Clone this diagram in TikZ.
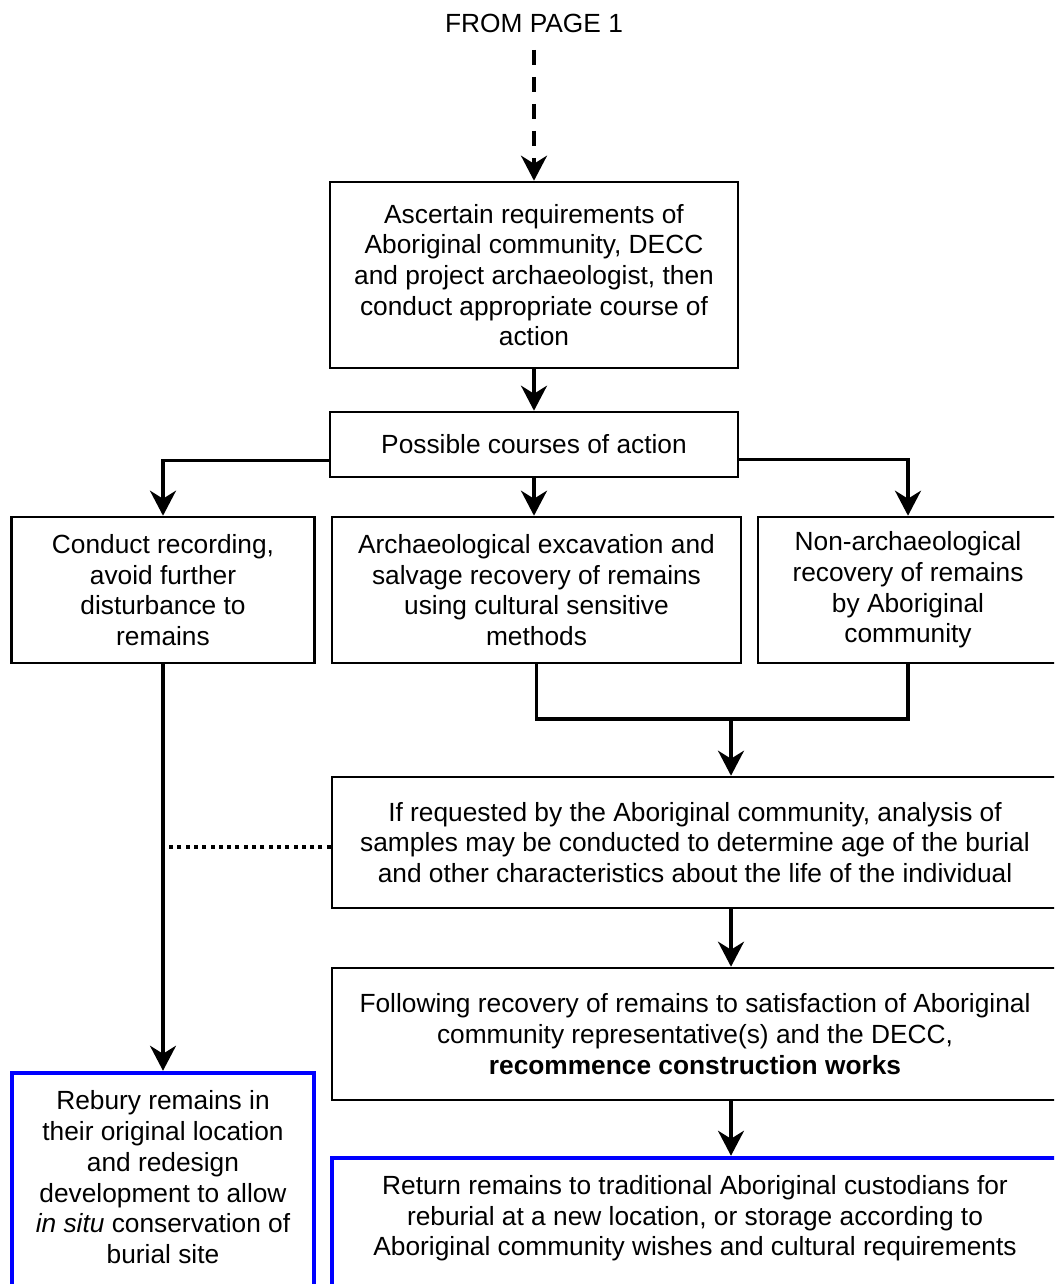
\documentclass[tikz,border=0pt]{standalone}
\usepackage{fontspec}
\setmainfont{Liberation Sans}
\usetikzlibrary{arrows.meta}
\begin{document}
\begin{tikzpicture}[x=1pt,y=-1pt,
  box/.style={draw,line width=2.6pt,align=center,inner sep=0pt,font=\fontsize{26.3}{30.7}\selectfont},
  bluebox/.style={box,draw=blue,line width=4.5pt},
  arr/.style={-{Stealth[length=25pt,width=26pt,inset=8pt]},line width=3.4pt},
  link/.style={line width=3.4pt}]
\useasboundingbox (0,0) rectangle (1054,1284);
\clip (0,0) rectangle (1054,1284);

\node[font=\fontsize{26.3}{30.7}\selectfont] (from) at (534,23) {FROM PAGE 1};

\node[box,minimum width=408pt,minimum height=186pt] (ascert) at (534,275) {Ascertain requirements of\\Aboriginal community, DECC\\and project archaeologist, then\\conduct appropriate course of\\action};
\node[box,minimum width=408pt,minimum height=65pt] (poss) at (534,444.5) {Possible courses of action};

\node[box,minimum width=303pt,minimum height=146pt] (rec) at (163,590) {Conduct recording,\\avoid further\\disturbance to\\remains};
\node[box,minimum width=409pt,minimum height=146pt] (arch) at (536.5,590) {Archaeological excavation and\\salvage recovery of remains\\using cultural sensitive\\methods};
\node[box,minimum width=300pt,minimum height=146pt] (non) at (908,590) {Non-archaeological\\recovery of remains\\by Aboriginal\\community};

\node[box,minimum width=726pt,minimum height=131pt] (ana) at (695,842.5) {If requested by the Aboriginal community, analysis of\\samples may be conducted to determine age of the burial\\and other characteristics about the life of the individual};
\node[box,minimum width=726pt,minimum height=132pt] (fol) at (695,1034) {Following recovery of remains to satisfaction of Aboriginal\\community representative(s) and the DECC,\\\textbf{recommence construction works}};

\node[bluebox,minimum width=302pt,minimum height=239pt] (reb) at (163,1192.5) {Rebury remains in\\their original location\\and redesign\\development to allow\\\textit{in situ} conservation of\\burial site\\\mbox{}};
\node[bluebox,minimum width=726pt,minimum height=146pt] (ret) at (695,1231) {Return remains to traditional Aboriginal custodians for\\reburial at a new location, or storage according to\\Aboriginal community wishes and cultural requirements\\\mbox{}};

\coordinate (join) at (731,719);

\draw[arr,dash pattern=on 15pt off 12pt,shorten <=14pt] (from.south) -- (ascert.north);
\draw[arr] (ascert.south) -- (poss.north);
\draw[arr] ([yshift=-16pt]poss.west) -| (rec.north);
\draw[arr] (poss.south) -- (poss.south |- arch.north);
\draw[arr] ([yshift=-15pt]poss.east) -| (non.north);

\draw[link] (arch.south) |- (join);
\draw[link] (non.south) |- (join);
\draw[arr] (join) -- (join |- ana.north);
\draw[arr] (join |- ana.south) -- (join |- fol.north);
\draw[arr] (join |- fol.south) -- (join |- ret.north);

\draw[arr] (rec.south) -- (reb.north);
\draw[line width=3.2pt,dash pattern=on 4pt off 4.3pt] ([yshift=-4.5pt]ana.west) -- ([yshift=-4.5pt]ana.west -| rec.south);
\end{tikzpicture}
\end{document}
